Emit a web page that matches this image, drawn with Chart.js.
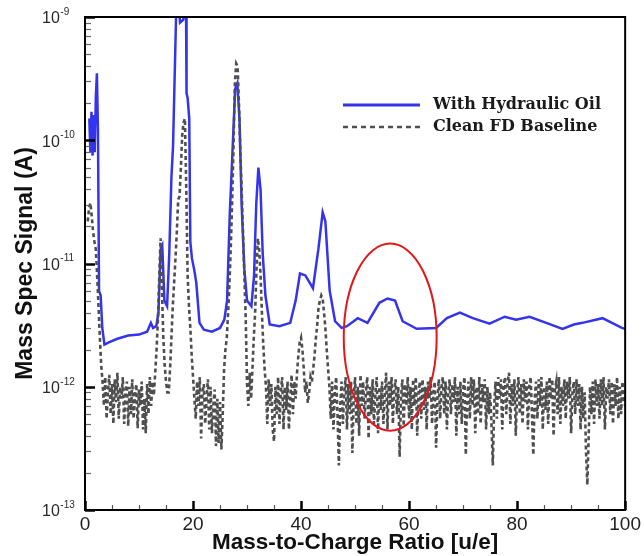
<!DOCTYPE html>
<html><head><meta charset="utf-8">
<script src="https://cdn.jsdelivr.net/npm/chart.js@4.4.1/dist/chart.umd.min.js"></script>
<style>html,body{margin:0;padding:0;background:#fff}#wrap{width:644px;height:556px;position:relative}</style>
</head><body><div id="wrap"><canvas id="c" width="644" height="556"></canvas></div>
<script>
// ---- data ----
const seriesNames = ['With Hydraulic Oil', 'Clean FD Baseline'];
const axisTitles = { x: 'Mass-to-Charge Ratio [u/e]', y: 'Mass Spec Signal (A)' };
const xTicks = [0, 20, 40, 60, 80, 100];
const yTicks = [1e-13, 1e-12, 1e-11, 1e-10, 1e-9];
const yTickExponents = ['-13', '-12', '-11', '-10', '-9'];

const oilMz = [0.8,1.0,1.2,1.4,1.6,1.8,2.0,2.2,2.4,2.6,2.9,3.2,3.6,4.5,6,8,10,11.5,12.2,12.6,13.2,13.6,14.0,14.3,14.7,15.2,15.6,
  16.0,16.3,16.6,16.9,17.4,17.6,18.2,18.4,18.7,18.8,19.0,19.3,19.5,19.8,20.2,20.6,21.2,22,23.5,25,25.8,26.3,26.8,27.3,27.8,28.2,28.6,
  29.0,29.5,30.0,30.8,31.3,31.7,32.1,32.5,32.9,33.4,34.2,36,38,39.0,39.8,40.8,42.2,43.2,44.0,44.5,45.3,46.3,47.5,48.5,50.5,52.3,54.5,
  56.0,57.4,58.8,61.4,65.0,67,69.4,71.8,74.9,77.7,79.8,82.3,85.4,88.4,90.5,92.1,95.8,99.4,100];
const oilSignal = [1.5e-10,8e-11,1.7e-10,7.5e-11,1.6e-10,8e-11,2.2e-10,3.5e-10,1.2e-10,6e-12,5.5e-12,3e-12,2.2e-12,2.3e-12,2.45e-12,2.6e-12,2.65e-12,2.8e-12,3.3e-12,3.0e-12,3.1e-12,4e-12,1.3e-11,1.4e-11,5e-12,4.5e-12,1.2e-11,
  5e-11,9e-11,3.3e-10,1.2e-9,1.2e-9,9e-10,9.5e-10,1.2e-9,1.2e-9,2.4e-10,2.2e-10,1.5e-10,1.5e-11,1.1e-11,9e-12,7e-12,3.3e-12,2.9e-12,2.8e-12,3e-12,3.5e-12,5e-12,2.5e-11,8e-11,2.6e-10,2.9e-10,1.5e-10,
  3e-11,9e-12,5e-12,4.5e-12,8e-12,3e-11,6e-11,4e-11,1.2e-11,5.5e-12,3.2e-12,3.1e-12,3.3e-12,5e-12,8.3e-12,8e-12,6.3e-12,1.3e-11,2.6e-11,2.2e-11,6e-12,3.4e-12,3e-12,3.1e-12,3.6e-12,3.3e-12,4.8e-12,
  5.2e-12,5e-12,3.4e-12,2.95e-12,3.0e-12,3.6e-12,4e-12,3.6e-12,3.25e-12,3.7e-12,3.5e-12,3.7e-12,3.3e-12,2.95e-12,3.2e-12,3.3e-12,3.6e-12,3.0e-12,2.95e-12];

const baseMz = [
  0.5,0.75,1,1.25,1.5,1.75,2,2.25,2.5,2.75,3,3.25,3.5,3.75,4,4.25,4.5,4.75,5,5.25,
  5.5,5.75,6,6.25,6.5,6.75,7,7.25,7.5,7.75,8,8.25,8.5,8.75,9,9.25,9.5,9.75,10,10.25,
  10.5,10.75,11,11.25,11.5,11.75,12,12.25,12.5,12.75,13,13.25,13.5,13.75,14,14.25,14.5,14.75,15,15.25,
  15.5,15.75,16,16.25,16.5,16.75,17,17.25,17.5,17.75,18,18.25,18.5,18.75,19,19.25,19.5,19.75,20,20.25,
  20.5,20.75,21,21.25,21.5,21.75,22,22.25,22.5,22.75,23,23.25,23.5,23.75,24,24.25,24.5,24.75,25,25.25,
  25.5,25.75,26,26.25,26.5,26.75,27,27.25,27.5,27.75,28,28.25,28.5,28.75,29,29.25,29.5,29.75,30,30.25,
  30.5,30.75,31,31.25,31.5,31.75,32,32.25,32.5,32.75,33,33.25,33.5,33.75,34,34.25,34.5,34.75,35,35.25,
  35.5,35.75,36,36.25,36.5,36.75,37,37.25,37.5,37.75,38,38.25,38.5,38.75,39,39.25,39.5,39.75,40,40.25,
  40.5,40.75,41,41.25,41.5,41.75,42,42.25,42.5,42.75,43,43.25,43.5,43.75,44,44.25,44.5,44.75,45,45.25,
  45.5,45.75,46,46.25,46.5,46.75,47,47.25,47.5,47.75,48,48.25,48.5,48.75,49,49.25,49.5,49.75,50,50.25,
  50.5,50.75,51,51.25,51.5,51.75,52,52.25,52.5,52.75,53,53.25,53.5,53.75,54,54.25,54.5,54.75,55,55.25,
  55.5,55.75,56,56.25,56.5,56.75,57,57.25,57.5,57.75,58,58.25,58.5,58.75,59,59.25,59.5,59.75,60,60.25,
  60.5,60.75,61,61.25,61.5,61.75,62,62.25,62.5,62.75,63,63.25,63.5,63.75,64,64.25,64.5,64.75,65,65.25,
  65.5,65.75,66,66.25,66.5,66.75,67,67.25,67.5,67.75,68,68.25,68.5,68.75,69,69.25,69.5,69.75,70,70.25,
  70.5,70.75,71,71.25,71.5,71.75,72,72.25,72.5,72.75,73,73.25,73.5,73.75,74,74.25,74.5,74.75,75,75.25,
  75.5,75.75,76,76.25,76.5,76.75,77,77.25,77.5,77.75,78,78.25,78.5,78.75,79,79.25,79.5,79.75,80,80.25,
  80.5,80.75,81,81.25,81.5,81.75,82,82.25,82.5,82.75,83,83.25,83.5,83.75,84,84.25,84.5,84.75,85,85.25,
  85.5,85.75,86,86.25,86.5,86.75,87,87.25,87.5,87.75,88,88.25,88.5,88.75,89,89.25,89.5,89.75,90,90.25,
  90.5,90.75,91,91.25,91.5,91.75,92,92.25,92.5,92.75,93,93.25,93.5,93.75,94,94.25,94.5,94.75,95,95.25,
  95.5,95.75,96,96.25,96.5,96.75,97,97.25,97.5,97.75,98,98.25,98.5,98.75,99,99.25,99.5,99.75,100];
const baseSignal = [
  2.2e-11,2.8e-11,3.1e-11,2.4e-11,1.8e-11,1.5e-11,1.3e-11,8e-12,4.5e-12,2.5e-12,1.5e-12,1.1e-12,7e-13,1.2e-12,5.5e-13,9e-13,1.25e-12,6e-13,1.05e-12,5e-13,
  1.15e-12,7.5e-13,1.3e-12,5.5e-13,1.0e-12,8e-13,1.2e-12,5e-13,9e-13,1.1e-12,4.8e-13,1.0e-12,6e-13,1.15e-12,5.5e-13,8.5e-13,1.05e-12,4.6e-13,9.5e-13,7e-13,
  1.1e-12,4.5e-13,8e-13,4.2e-13,1.05e-12,6e-13,1.2e-12,7e-13,1.1e-12,8.5e-13,1.3e-12,2e-12,3.5e-12,8e-12,1.6e-11,6e-12,2.5e-12,1.5e-12,1.1e-12,9e-13,
  9e-13,1.4e-12,2.5e-12,4.5e-12,7e-12,1.1e-11,1.8e-11,3.3e-11,3.5e-11,6e-11,1.1e-10,1.4e-10,1.5e-10,4e-11,8e-12,4.5e-12,3e-12,1.8e-12,1.2e-12,8e-13,
  5.5e-13,1.1e-12,7e-13,1.2e-12,3.8e-13,9e-13,1.05e-12,5e-13,8e-13,1.15e-12,4.5e-13,1.0e-12,4.2e-13,7e-13,9.5e-13,3.3e-13,8e-13,3.5e-13,7.5e-13,3.1e-13,
  6e-13,1.4e-12,2e-12,2.5e-12,4e-12,7e-12,1.4e-11,3.3e-11,9e-11,2.9e-10,4.2e-10,4e-10,2e-10,8.3e-11,4e-11,1.8e-11,8e-12,3.7e-12,1.05e-12,7e-13,
  1.3e-12,8e-13,1.4e-12,2.5e-12,4e-12,9e-12,1.6e-11,1.3e-11,8e-12,4e-12,2.2e-12,1.4e-12,1.0e-12,5e-13,1.15e-12,7e-13,1.05e-12,4.5e-13,3.6e-13,1.0e-12,
  6e-13,1.2e-12,5e-13,9e-13,1.2e-12,4.5e-13,1.0e-12,6.5e-13,1.1e-12,4.5e-13,8e-13,1.25e-12,6e-13,1.1e-12,8e-13,1.3e-12,1.8e-12,2.3e-12,2.5e-12,2e-12,
  1.4e-12,9e-13,1.1e-12,7.4e-13,9e-13,1.2e-12,1.1e-12,1.4e-12,1.8e-12,2.5e-12,3.2e-12,4.5e-12,5e-12,5.5e-12,5.2e-12,4e-12,3e-12,2e-12,1.4e-12,1e-12,
  5.5e-13,1.1e-12,4.5e-13,9e-13,1.2e-12,6e-13,2.3e-13,7e-13,1.1e-12,5e-13,9e-13,1.2e-12,4.5e-13,1.05e-12,6e-13,1.1e-12,2.9e-13,8e-13,1.2e-12,5e-13,
  1.0e-12,4e-13,1.25e-12,7e-13,1.1e-12,5.5e-13,9e-13,1.2e-12,3.8e-13,1.0e-12,6e-13,1.15e-12,5e-13,8.5e-13,1.2e-12,4.2e-13,1.0e-12,6.5e-13,1.1e-12,5e-13,
  9e-13,1.3e-12,4.5e-13,1.1e-12,7e-13,1.2e-12,5e-13,9.5e-13,1.15e-12,6e-13,1.0e-12,2.7e-13,8e-13,1.15e-12,4.8e-13,1.05e-12,7e-13,1.2e-12,5.5e-13,1.0e-12,
  4.5e-13,1.15e-12,7e-13,1.2e-12,4e-13,9e-13,1.1e-12,5.5e-13,1.15e-12,6.5e-13,1.0e-12,4.5e-13,1.1e-12,8e-13,1.2e-12,5e-13,9e-13,1.1e-12,3.2e-13,8e-13,
  1.15e-12,5.5e-13,1.0e-12,1.2e-12,6e-13,1.1e-12,4.5e-13,9e-13,1.15e-12,6e-13,1.05e-12,7.5e-13,1.2e-12,4e-13,1.0e-12,6e-13,1.1e-12,5e-13,9.5e-13,1.2e-12,
  2.8e-13,8e-13,1.1e-12,5.5e-13,1.2e-12,7e-13,1.15e-12,4.2e-13,1.0e-12,6e-13,1.2e-12,5e-13,1.05e-12,7.5e-13,1.15e-12,4.5e-13,1.0e-12,6e-13,9e-13,5e-13,
  2.3e-13,7e-13,1.1e-12,5.5e-13,1.2e-12,8e-13,1.15e-12,4.5e-13,1.0e-12,1.2e-12,6e-13,1.1e-12,1.3e-12,5e-13,1.05e-12,7e-13,1.15e-12,4e-13,9e-13,1.2e-12,
  6e-13,1.05e-12,5e-13,1.15e-12,7.5e-13,1.1e-12,4.5e-13,1.0e-12,1.2e-12,6e-13,2.8e-13,8e-13,1.1e-12,5.5e-13,1.15e-12,7e-13,1.2e-12,4.5e-13,1.0e-12,6.5e-13,
  1.1e-12,5e-13,1.2e-12,8e-13,1.15e-12,4e-13,9.5e-13,1.1e-12,6e-13,1.2e-12,5e-13,1.0e-12,7e-13,1.15e-12,5.5e-13,1.1e-12,8e-13,1.2e-12,4.2e-13,9e-13,
  1.1e-12,6e-13,1.15e-12,7e-13,1.05e-12,4.5e-13,1.0e-12,5.5e-13,9e-13,3e-13,1.6e-13,4e-13,1.0e-12,6e-13,1.1e-12,5e-13,1.15e-12,7e-13,1.05e-12,5.5e-13,
  1.15e-12,7e-13,1.2e-12,4.5e-13,1.0e-12,8e-13,1.15e-12,6e-13,1.1e-12,5e-13,1.05e-12,7e-13,1.2e-12,5.5e-13,1.0e-12,6e-13,1.1e-12,8e-13,7e-13];

// highlight ellipse in data units
const highlight = { mzCenter: 56.5, mzHalfWidth: 8.6, signalTop: 1.45e-11, signalBottom: 4.4e-13 };
const xMinorStep = 5;
const yMinorMultipliers = [2, 3, 4, 5, 6, 7, 8, 9];

const BLUE = 'rgb(52,52,236)';
const GRAY = '#4f4f4f';

const frameAndTicks = {
  id: 'frameAndTicks',
  afterDatasetsDraw(chart) {
    const { ctx, chartArea: a, scales: { x, y } } = chart;
    ctx.save();
    ctx.lineCap = 'butt';
    for (let v = xTicks[0]; v <= xTicks[xTicks.length - 1] + 1e-9; v += xMinorStep) {
      const px = Math.round(x.getPixelForValue(v)) + 0.5;
      const major = xTicks.includes(v);
      ctx.strokeStyle = major ? '#000' : '#555';
      ctx.lineWidth = major ? 2.5 : 1.2;
      ctx.beginPath(); ctx.moveTo(px, a.bottom); ctx.lineTo(px, a.bottom - (major ? 9 : 5)); ctx.stroke();
    }
    for (let d = -13; d < -9; d++) {
      for (const m of yMinorMultipliers) {
        const py = Math.round(y.getPixelForValue(m * Math.pow(10, d))) + 0.5;
        ctx.strokeStyle = '#666'; ctx.lineWidth = 1.2;
        ctx.beginPath(); ctx.moveTo(a.left, py); ctx.lineTo(a.left + 6, py); ctx.stroke();
      }
    }
    for (const v of yTicks) {
      const py = Math.round(y.getPixelForValue(v)) + 0.5;
      ctx.strokeStyle = '#000'; ctx.lineWidth = 2.5;
      ctx.beginPath(); ctx.moveTo(a.left, py); ctx.lineTo(a.left + 10, py); ctx.stroke();
    }
    ctx.strokeStyle = '#000'; ctx.lineWidth = 2;
    ctx.strokeRect(a.left, a.top, a.right - a.left, a.bottom - a.top);
    ctx.restore();
  }
};

// y tick labels "10" with raised exponent, placed with the log scale
const yLabelPlugin = {
  id: 'yLabels',
  afterDraw(chart) {
    const { ctx, scales: { y } } = chart;
    ctx.save();
    ctx.fillStyle = '#2a2a2a';
    ctx.textBaseline = 'middle';
    ctx.textAlign = 'left';
    yTicks.forEach((v, i) => {
      const py = y.getPixelForValue(v);
      ctx.font = '16px "Liberation Sans"';
      ctx.fillText('10', 42, py + 2);
      const w = ctx.measureText('10').width;
      ctx.font = '10px "Liberation Sans"';
      ctx.fillText(yTickExponents[i], 42 + w + 0.5, py - 5);
    });
    ctx.restore();
  }
};

const ellipsePlugin = {
  id: 'ellipse',
  afterDatasetsDraw(chart) {
    const { ctx, scales: { x, y } } = chart;
    const cx = x.getPixelForValue(highlight.mzCenter);
    const rx = x.getPixelForValue(highlight.mzCenter + highlight.mzHalfWidth) - cx;
    const top = y.getPixelForValue(highlight.signalTop);
    const bot = y.getPixelForValue(highlight.signalBottom);
    ctx.save();
    ctx.strokeStyle = '#e3161c'; ctx.lineWidth = 2;
    ctx.beginPath(); ctx.ellipse(cx, (top + bot) / 2, rx, (bot - top) / 2, 0, 0, Math.PI * 2); ctx.stroke();
    ctx.restore();
  }
};

const legendPlugin = {
  id: 'customLegend',
  afterDraw(chart) {
    const { ctx } = chart;
    const rows = [
      { label: seriesNames[0], color: BLUE, dash: [], width: 3, y: 105 },
      { label: seriesNames[1], color: GRAY, dash: [5, 4], width: 2.5, y: 127 }
    ];
    ctx.save();
    for (const r of rows) {
      ctx.strokeStyle = r.color; ctx.lineWidth = r.width; ctx.setLineDash(r.dash);
      ctx.beginPath(); ctx.moveTo(343, r.y); ctx.lineTo(420, r.y); ctx.stroke();
      ctx.setLineDash([]);
      ctx.fillStyle = '#1a1a1a';
      ctx.font = 'bold 16px "DejaVu Serif"';
      ctx.textBaseline = 'middle';
      ctx.fillText(r.label, 433, r.y);
    }
    ctx.restore();
  }
};

new Chart(document.getElementById('c'), {
  type: 'line',
  data: {
    datasets: [
      {
        label: seriesNames[0],
        data: oilMz.map((m, i) => ({ x: m, y: oilSignal[i] })),
        borderColor: BLUE, borderWidth: 2.5, pointRadius: 0, tension: 0, order: 2, clip: 0
      },
      {
        label: seriesNames[1],
        data: baseMz.map((m, i) => ({ x: m, y: baseSignal[i] })),
        borderColor: GRAY, borderWidth: 2.6, borderDash: [4, 3], pointRadius: 0, tension: 0, order: 1, clip: 0
      }
    ]
  },
  options: {
    responsive: false, animation: false, devicePixelRatio: 1,
    layout: { padding: { left: 0, right: 18, top: 17, bottom: 0 } },
    plugins: { legend: { display: false }, tooltip: { enabled: false } },
    scales: {
      x: {
        type: 'linear', min: 0, max: 100,
        afterBuildTicks: s => { s.ticks = xTicks.map(v => ({ value: v })); },
        afterFit: s => { s.height = 46; },
        grid: { display: false, drawTicks: false }, border: { display: false },
        ticks: { font: { family: 'Liberation Sans', size: 19 }, color: '#222', padding: 3, maxRotation: 0, autoSkip: false },
        title: { display: true, text: axisTitles.x, font: { family: 'Liberation Sans', size: 22.5, weight: 'bold' }, color: '#111', padding: { top: 0, bottom: 0 } }
      },
      y: {
        type: 'logarithmic', min: 1e-13, max: 1e-9,
        afterBuildTicks: s => { s.ticks = yTicks.map(v => ({ value: v })); },
        afterFit: s => { s.width = 85; },
        grid: { display: false, drawTicks: false }, border: { display: false },
        ticks: { display: false },
        title: { display: true, text: axisTitles.y, font: { family: 'Liberation Sans', size: 23, weight: 'bold' }, color: '#111', padding: { top: 12, bottom: 0 } }
      }
    }
  },
  plugins: [frameAndTicks, ellipsePlugin, legendPlugin, yLabelPlugin]
});
</script>
</body></html>
